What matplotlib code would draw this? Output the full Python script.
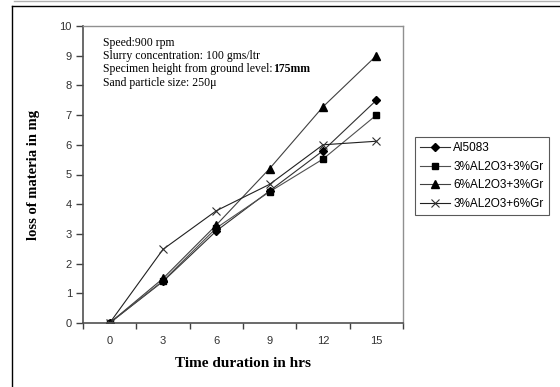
import matplotlib
matplotlib.use("Agg")
import matplotlib.pyplot as plt
from matplotlib.lines import Line2D
import numpy as np

categories = ["0", "3", "6", "9", "12", "15"]
al5083 = [0, 1.4, 3.1, 4.45, 5.8, 7.5]
s3al_3gr = [0, 1.42, 3.2, 4.42, 5.52, 7.0]
s6al_3gr = [0, 1.5, 3.3, 5.2, 7.28, 9.0]
s3al_6gr = [0, 2.48, 3.78, 4.67, 6.0, 6.12]
series_names = ["Al5083", "3%AL2O3+3%Gr", "6%AL2O3+3%Gr", "3%AL2O3+6%Gr"]
yticks = list(range(0, 11))
notes = ["Speed:900 rpm", "Slurry concentration: 100 gms/ltr",
         "Specimen height from ground level:", "Sand particle size: 250\u03bc"]
note_bold = "175mm"

W, H = 560, 387
fig = plt.figure(figsize=(W / 100, H / 100), dpi=100)
ax = fig.add_axes([83 / W, 1 - 323 / H, (403 - 83) / W, (323 - 26) / H])

x = np.arange(len(categories))
styles = [
    dict(marker="D", markersize=4, color="#303030", mfc="black", mec="black"),
    dict(marker="s", markersize=5, color="#505050", mfc="black", mec="black"),
    dict(marker="^", markersize=5.5, color="#404040", mfc="black", mec="black"),
    dict(marker="x", markersize=6, color="#202020", mfc="black", mec="#303030", mew=0.8),
]
for vals, name, st in zip([al5083, s3al_3gr, s6al_3gr, s3al_6gr], series_names, styles):
    ax.plot(x, vals, lw=0.8, label=name, **st)

ax.set_xlim(-0.5, len(categories) - 0.5)
ax.set_ylim(0, 10)
ax.set_xticks(x)
ax.set_xticklabels(categories)
ax.set_xticks(np.arange(-0.5, len(categories), 1), minor=True)
ax.tick_params(axis="x", which="major", length=0, pad=9)
ax.tick_params(axis="x", which="minor", length=4, direction="out", color="#404040", width=1)
ax.set_yticks(yticks)
ax.tick_params(axis="y", length=5, direction="out", color="#404040", width=1, pad=3)
for lab in ax.get_xticklabels() + ax.get_yticklabels():
    lab.set_fontfamily("Liberation Sans")
    lab.set_fontsize(8)
    lab.set_color("#303030")
for s in ["left", "bottom"]:
    ax.spines[s].set_color("#505050")
    ax.spines[s].set_linewidth(1.2)
for s in ["top", "right"]:
    ax.spines[s].set_color("#909090")
    ax.spines[s].set_linewidth(1.0)

ax.set_xlabel("Time duration in hrs", fontfamily="Liberation Serif", fontweight="bold",
              fontsize=11, labelpad=8)
ax.set_ylabel("loss of materia in mg", fontfamily="Liberation Serif", fontweight="bold",
              fontsize=10.5, labelpad=14)

# annotation text
fig.canvas.draw()
renderer = fig.canvas.get_renderer()
y0 = 1 - 43 / H
dy = 13.2 / H
for i, t in enumerate(notes):
    tx = fig.text(103 / W, y0 - i * dy, t, fontfamily="Liberation Serif", fontsize=8.5,
                  va="center", ha="left", color="black")
    if i == 2:
        bb = tx.get_window_extent(renderer=renderer)
        fig.text(bb.x1 / W, y0 - i * dy, note_bold, fontfamily="Liberation Serif",
                 fontsize=8.5, fontweight="bold", va="center", ha="left")

leg = fig.legend(loc="upper left", bbox_to_anchor=(415 / W, 1 - 137 / H),
                 prop={"family": "Liberation Sans", "size": 8.5}, frameon=True,
                 fancybox=False, edgecolor="#303030", handlelength=2.5, handletextpad=0.3,
                 borderpad=0.45, labelspacing=0.55, borderaxespad=0)
leg.get_frame().set_linewidth(0.8)

# outer frame lines
fig.add_artist(Line2D([12 / W, 12 / W], [0, 1 - 6 / H], color="black", lw=1))
fig.add_artist(Line2D([12 / W, 1], [1 - 6 / H, 1 - 6 / H], color="black", lw=1))
fig.add_artist(Line2D([14 / W, 1], [1 - 1 / H, 1 - 1 / H], color="#b0b0b0", lw=1))

fig.savefig("out.png", dpi=100)
